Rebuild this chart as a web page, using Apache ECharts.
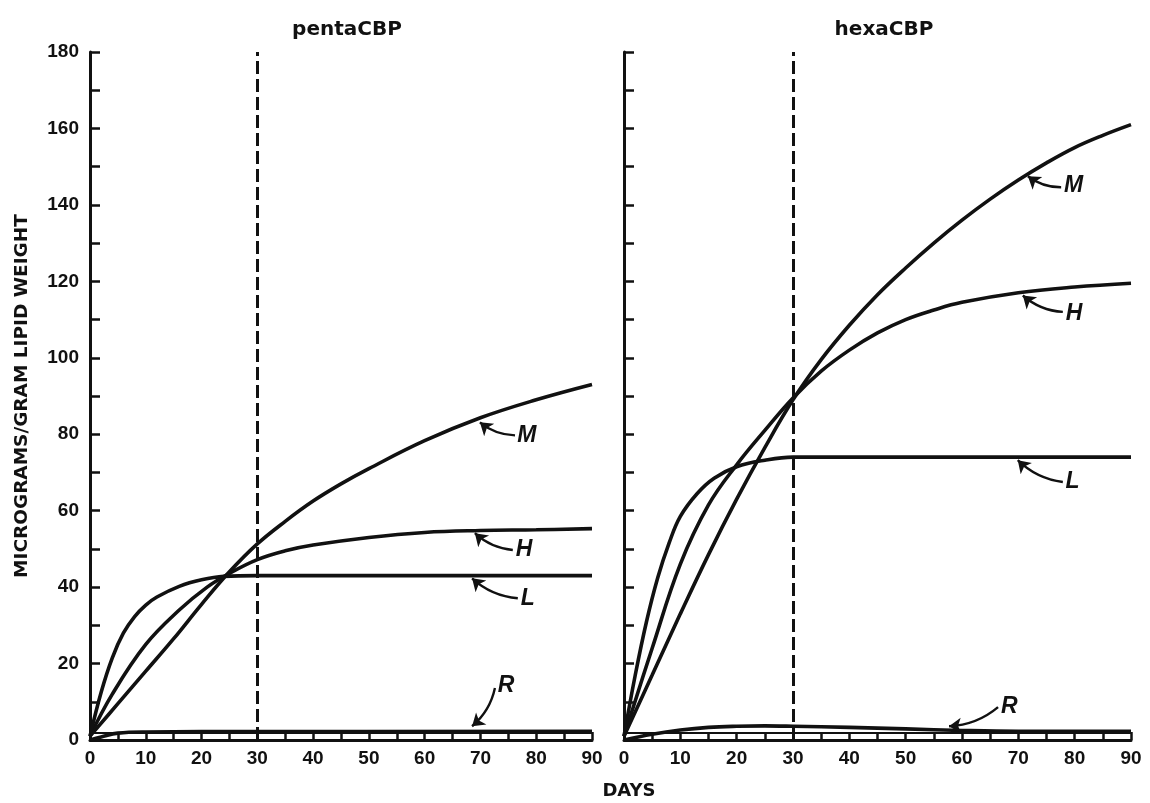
<!DOCTYPE html>
<html>
<head>
<meta charset="utf-8">
<script src="https://cdn.jsdelivr.net/npm/echarts@6/dist/echarts.min.js"></script>
<style>html,body{margin:0;padding:0;background:#fff;}#c{width:1150px;height:803px;}</style>
</head>
<body>
<div id="c"></div>
<script>
// ---- data (day, micrograms/gram lipid weight) ----
const panelTitles = ['pentaCBP', 'hexaCBP'];
const xTicks = [0, 10, 20, 30, 40, 50, 60, 70, 80, 90];
const yTicks = [0, 20, 40, 60, 80, 100, 120, 140, 160, 180];

const pentaM = [[0,1],[5,9.5],[10,18],[15,26.5],[20,35.5],[25,44],[30,51.3],[35,57.2],[40,62.5],[45,67],[50,71],[60,78.3],[70,84.3],[80,89],[90,93]];
const pentaH = [[0,1],[4,12],[10,25],[16,34],[21,40],[25,43.6],[30,47.2],[35,49.5],[40,51],[50,53],[60,54.3],[70,54.8],[80,55],[90,55.3]];
const pentaL = [[0,1],[2,12.5],[4,21.5],[6,28],[8,32.3],[10,35.3],[12,37.4],[16,40.2],[20,41.9],[24,42.8],[30,43],[90,43]];
const pentaR = [[0,0],[2,0.8],[5,1.8],[10,2.1],[30,2.2],[90,2.3]];

const hexaM = [[0,1],[5,17],[10,33],[15,48.5],[20,63],[25,76.5],[30,89],[35,99.5],[40,108.5],[45,116.5],[50,123.5],[55,130],[60,136],[65,141.5],[70,146.5],[75,151],[80,155],[85,158.2],[90,161]];
const hexaH = [[0,1],[5,24],[10,46],[15,61.5],[20,72],[25,81],[30,89.5],[35,96.5],[40,102],[45,106.5],[50,110],[55,112.5],[60,114.5],[70,117],[80,118.5],[90,119.5]];
const hexaL = [[0,1],[2,17],[4,31],[6,42.5],[8,51.5],[10,58.5],[13,64.5],[16,68.5],[20,71.5],[25,73.2],[30,74],[90,74]];
const hexaR = [[0,0],[5,1.5],[10,2.6],[15,3.3],[20,3.6],[25,3.7],[30,3.6],[40,3.3],[50,2.9],[60,2.5],[70,2.3],[90,2.3]];

// annotation letters: [letter, labelPoint, arrowTail, arrowHead]
const pentaNotes = [
  ['M', [78.3,79.7], [76.2,79.7], [69.9,83.1]],
  ['H', [77.8,49.7], [75.8,49.7], [69.0,54.1]],
  ['L', [78.5,37.1], [76.7,37.1], [68.5,42.3]],
  ['R', [74.6,14.1], [72.6,13.6], [68.5,3.6]]
];
const hexaNotes = [
  ['M', [79.8,145.0], [77.6,144.6], [71.7,147.5]],
  ['H', [79.9,111.6], [77.9,112.0], [70.8,116.3]],
  ['L', [79.6,67.5], [77.9,67.5], [69.9,73.2]],
  ['R', [68.4,8.6], [66.4,8.6], [57.7,3.6]]
];
const cutoffDay = 30;
const ladderTop = 2;

// ---- chart ----
const chart = echarts.init(document.getElementById('c'), null, {renderer: 'canvas'});
const INK = '#111';
const tickFont = {fontFamily: 'Liberation Sans', fontWeight: 'bold', fontSize: 19, color: INK};

function xAxisDef(gi) {
  return {
    type: 'value', gridIndex: gi, min: 0, max: 90, interval: 10,
    axisLine: {show: true, onZero: false, lineStyle: {color: INK, width: 3}},
    axisTick: {show: true, inside: true, length: 8, lineStyle: {color: INK, width: 2.5}},
    minorTick: {show: true, splitNumber: 2, length: 8, lineStyle: {color: INK, width: 2.5}},
    splitLine: {show: false}, minorSplitLine: {show: false},
    axisLabel: Object.assign({margin: 9, formatter: v => xTicks.includes(v) ? String(v) : ''}, tickFont)
  };
}
function yAxisDef(gi, showLabels) {
  const a = {
    type: 'value', gridIndex: gi, min: 0, max: 180, interval: 20,
    axisLine: {show: true, onZero: false, lineStyle: {color: INK, width: 3}},
    axisTick: {show: true, inside: true, length: 10, lineStyle: {color: INK, width: 2.5}},
    minorTick: {show: true, splitNumber: 2, length: 10, lineStyle: {color: INK, width: 2.5}},
    splitLine: {show: false}, minorSplitLine: {show: false},
    axisLabel: Object.assign({show: showLabels, margin: 11, formatter: v => yTicks.includes(v) ? String(v) : ''}, tickFont)
  };
  if (showLabels) {
    a.name = 'MICROGRAMS/GRAM LIPID WEIGHT';
    a.nameLocation = 'middle';
    a.nameRotate = 90;
    a.nameGap = 58;
    a.nameTextStyle = {fontFamily: 'DejaVu Sans', fontWeight: 'bold', fontSize: 18.5, color: INK};
  }
  return a;
}

function curve(name, data, gi) {
  return {
    name: name, type: 'line', xAxisIndex: gi, yAxisIndex: gi, data: data,
    smooth: 0.4, showSymbol: false, symbol: 'none', silent: true,
    lineStyle: {color: INK, width: 3.6}, z: 3
  };
}
function letterSeries(notes, gi) {
  return {
    type: 'line', xAxisIndex: gi, yAxisIndex: gi, data: [], silent: true, z: 4,
    markPoint: {
      symbol: 'circle', symbolSize: 0, silent: true,
      label: {show: true, fontFamily: 'Liberation Sans', fontStyle: 'italic', fontWeight: 'bold', fontSize: 23, color: INK, formatter: p => p.name},
      data: notes.map(n => ({name: n[0], coord: n[1]}))
    }
  };
}
function arrowSeries(notes, gi) {
  return {
    type: 'lines', coordinateSystem: 'cartesian2d', xAxisIndex: gi, yAxisIndex: gi,
    silent: true, z: 4, polyline: false,
    symbol: ['none', 'arrow'], symbolSize: 12,
    lineStyle: {color: INK, width: 2.4, opacity: 1, curveness: 0.17},
    effect: {show: false},
    data: notes.map(n => ({coords: [n[2], n[3]]}))
  };
}
function refLines(gi) {
  return {
    type: 'line', xAxisIndex: gi, yAxisIndex: gi, data: [], silent: true, z: 2,
    markLine: {
      silent: true, symbol: ['none', 'none'], label: {show: false},
      data: [
        {xAxis: cutoffDay, lineStyle: {color: INK, width: 3, type: [13, 5]}},
        {yAxis: ladderTop, lineStyle: {color: INK, width: 2.2, type: 'solid'}}
      ]
    }
  };
}

const option = {
  backgroundColor: '#fff',
  animation: false,
  title: [
    {text: panelTitles[0], left: 342, top: 15, textAlign: 'center', textStyle: {fontFamily: 'DejaVu Sans', fontWeight: 'bold', fontSize: 20, color: INK}},
    {text: panelTitles[1], left: 879, top: 15, textAlign: 'center', textStyle: {fontFamily: 'DejaVu Sans', fontWeight: 'bold', fontSize: 20, color: INK}},
    {text: 'DAYS', left: 624, top: 777, textAlign: 'center', textStyle: {fontFamily: 'DejaVu Sans', fontWeight: 'bold', fontSize: 18, color: INK}}
  ],
  grid: [
    {left: 90, top: 52, width: 502, height: 688, containLabel: false},
    {left: 624, top: 52, width: 507, height: 688, containLabel: false}
  ],
  xAxis: [xAxisDef(0), xAxisDef(1)],
  yAxis: [yAxisDef(0, true), yAxisDef(1, false)],
  series: [
    refLines(0), refLines(1),
    curve('M', pentaM, 0), curve('H', pentaH, 0), curve('L', pentaL, 0), curve('R', pentaR, 0),
    curve('M', hexaM, 1), curve('H', hexaH, 1), curve('L', hexaL, 1), curve('R', hexaR, 1),
    letterSeries(pentaNotes, 0), letterSeries(hexaNotes, 1),
    arrowSeries(pentaNotes, 0), arrowSeries(hexaNotes, 1)
  ]
};
chart.setOption(option);
</script>
</body>
</html>
